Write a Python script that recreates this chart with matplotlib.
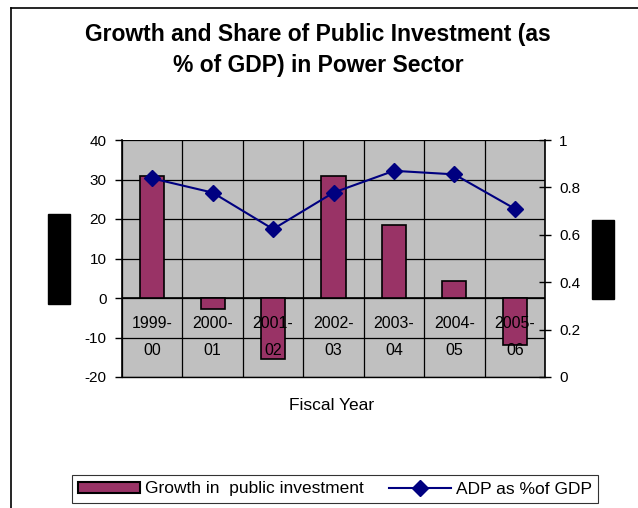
import matplotlib.pyplot as plt
from matplotlib.lines import Line2D
from matplotlib.patches import Patch, Rectangle

plt.rcParams['font.family'] = ['Liberation Sans', 'DejaVu Sans']
plt.rcParams['axes.unicode_minus'] = False

years = ['1999-\n00', '2000-\n01', '2001-\n02', '2002-\n03', '2003-\n04', '2004-\n05', '2005-\n06']
growth = [30.8, -2.8, -15.5, 30.8, 18.6, 4.4, -12.0]
adp_share = [0.838, 0.778, 0.624, 0.778, 0.870, 0.855, 0.710]
left_ticks = [-20, -10, 0, 10, 20, 30, 40]
right_ticks = [0, 0.2, 0.4, 0.6, 0.8, 1]
right_labels = ['0', '0.2', '0.4', '0.6', '0.8', '1']

fig = plt.figure(figsize=(6.38, 5.08), dpi=100)
W, H = 638, 508

def fx(px):
    return px / W

def fy(py):
    return 1 - py / H

ax = fig.add_axes([fx(122), fy(377), fx(545) - fx(122), fy(140) - fy(377)])
ax.set_facecolor('#C0C0C0')

x = list(range(len(years)))
ax.bar(x, growth, width=0.4, color='#993366', edgecolor='black', linewidth=1.2, zorder=3)
ax.set_xlim(-0.5, len(years) - 0.5)
ax.set_ylim(-20, 40)
ax.set_yticks(left_ticks)
ax.set_xticks([i - 0.5 for i in range(len(years) + 1)])
ax.set_xticklabels([])
ax.tick_params(axis='x', length=0)
ax.tick_params(axis='y', direction='out', length=5, width=1, labelsize=11, pad=6)
ax.grid(True, color='black', linewidth=0.9, zorder=1)
ax.set_axisbelow(True)
ax.axhline(0, color='black', linewidth=1.2, zorder=2)
for side in ['top', 'right']:
    ax.spines[side].set_visible(False)
ax.spines['left'].set_linewidth(1.2)
ax.spines['bottom'].set_linewidth(1.0)

# category labels sit just under the zero line
for i, lab in enumerate(years):
    ax.text(i, -4.6, lab, ha='center', va='top', fontsize=11.5,
            linespacing=1.95, zorder=5)

ax2 = ax.twinx()
ax2.plot(x, adp_share, color='#000080', linewidth=1.5, marker='D', markersize=8,
         markerfacecolor='#000080', markeredgecolor='#000080', zorder=4)
ax2.set_ylim(0, 1)
ax2.set_yticks(right_ticks)
ax2.set_yticklabels(right_labels)
ax2.tick_params(axis='y', direction='inout', length=8, width=1, labelsize=11, pad=6)
for side in ['top', 'left', 'bottom']:
    ax2.spines[side].set_visible(False)
ax2.spines['right'].set_linewidth(1.2)

fig.text(fx(318), fy(50), 'Growth and Share of Public Investment (as\n% of GDP) in Power Sector',
         ha='center', va='center', fontsize=16.5, fontweight='bold', linespacing=1.45)
fig.text(fx(332), fy(406), 'Fiscal Year', ha='center', va='center', fontsize=12.5)

# blacked-out axis titles
fig.patches.append(Rectangle((fx(48), fy(304)), fx(70) - fx(48), fy(214) - fy(304),
                             transform=fig.transFigure, color='black'))
fig.patches.append(Rectangle((fx(592), fy(299)), fx(614) - fx(592), fy(220) - fy(299),
                             transform=fig.transFigure, color='black'))

# chart frame
fig.add_artist(Line2D([fx(11), fx(11)], [fy(8), 0], color='black', linewidth=1.2))
fig.add_artist(Line2D([fx(11), 1], [fy(8), fy(8)], color='black', linewidth=1.2))

handles = [Patch(facecolor='#993366', edgecolor='black', linewidth=1.5),
           Line2D([], [], color='#000080', linewidth=1.5, marker='D', markersize=8)]
leg = fig.legend(handles, ['Growth in  public investment', 'ADP as %of GDP'],
                 loc='center', bbox_to_anchor=(fx(335), fy(489)), ncol=2,
                 fontsize=12.5, frameon=True, fancybox=False, edgecolor='black',
                 handlelength=3.6, handleheight=0.6, columnspacing=1.4,
                 handletextpad=0.3, borderpad=0.35)
leg.get_frame().set_linewidth(0.8)

fig.savefig('out.png', dpi=100)
